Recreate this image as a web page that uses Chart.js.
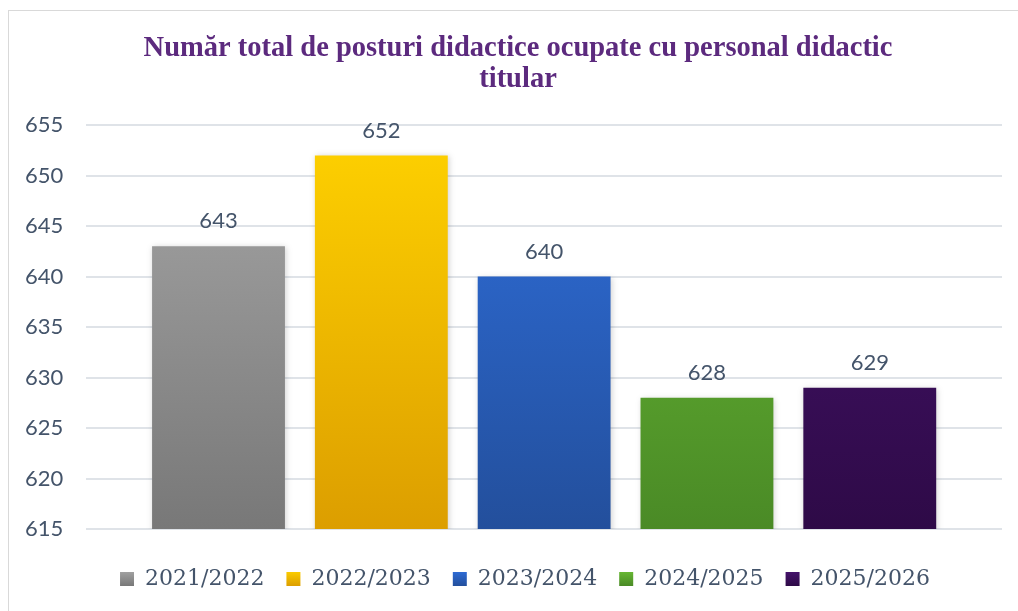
<!DOCTYPE html>
<html>
<head>
<meta charset="utf-8">
<script src="https://cdn.jsdelivr.net/npm/chart.js@4"></script>
<style>
  html, body { margin: 0; padding: 0; background: #fff; overflow: hidden; }
  #frame { position: absolute; left: 8px; top: 10px; width: 1030px; height: 620px; border: 1px solid #d9d9d9; box-sizing: border-box; }
  #wrap { position: absolute; left: 0; top: 0; width: 1018px; height: 611px; }
</style>
</head>
<body>
<div id="frame"></div>
<div id="wrap"><canvas id="canvas" width="1018" height="611"></canvas></div>
<script>
// school years and totals
const years = ['2021/2022', '2022/2023', '2023/2024', '2024/2025', '2025/2026'];
const totals = [643, 652, 640, 628, 629];
// gradient stops: top, bottom
const topColors = ['#a6a6a6', '#ffd200', '#2f6fdc', '#6bbd35', '#481470'];
const bottomColors = ['#787878', '#dc9e00', '#234f9c', '#4a8a26', '#2e0a47'];

const textColor = '#44546a';

function grad(ctx, i) {
  const area = ctx.chart.chartArea;
  if (!area) return topColors[i];
  const g = ctx.chart.ctx.createLinearGradient(0, area.top, 0, area.bottom);
  g.addColorStop(0, topColors[i]);
  g.addColorStop(1, bottomColors[i]);
  return g;
}

// values above bars
const valueLabels = {
  id: 'valueLabels',
  afterDatasetsDraw(chart) {
    const c = chart.ctx;
    c.save();
    c.font = '22px Lato, "Open Sans", sans-serif';
    c.fillStyle = textColor;
    c.textAlign = 'center';
    c.textBaseline = 'middle';
    chart.data.datasets.forEach((ds, i) => {
      const bar = chart.getDatasetMeta(i).data[0];
      c.fillText(ds.data[0], bar.x, bar.y - 25);
    });
    c.restore();
  }
};

// soft shadow on bars
const barShadow = {
  id: 'barShadow',
  beforeDatasetsDraw(chart) {
    chart.ctx.save();
    chart.ctx.shadowColor = 'rgba(0,0,0,0.18)';
    chart.ctx.shadowBlur = 6;
    chart.ctx.shadowOffsetX = 1;
    chart.ctx.shadowOffsetY = 1;
  },
  afterDatasetsDraw(chart) {
    chart.ctx.restore();
  }
};

// title and legend sit a bit right of centre in the original
const boxShift = {
  id: 'boxShift',
  afterLayout(chart) {
    chart.legend.left += 23;
    chart.legend.right += 23;
    chart.titleBlock.left += 16;
    chart.titleBlock.right += 16;
  }
};

new Chart(document.getElementById('canvas').getContext('2d'), {
  type: 'bar',
  data: {
    labels: [''],
    datasets: years.map((y, i) => ({
      label: y,
      data: [totals[i]],
      backgroundColor: ctx => grad(ctx, i),
      borderWidth: 0,
      categoryPercentage: 0.889,
      barPercentage: 0.816
    }))
  },
  options: {
    responsive: false,
    animation: false,
    devicePixelRatio: 1,
    layout: { padding: { left: 2, right: 16, top: 33, bottom: 11 } },
    plugins: {
      title: {
        display: true,
        text: ['Număr total de posturi didactice ocupate cu personal didactic', 'titular'],
        color: '#5c2a7e',
        font: { family: '"Liberation Serif", serif', size: 28.5, weight: 'bold', lineHeight: 1.09 },
        padding: { top: 0, bottom: 30 }
      },
      legend: {
        position: 'bottom',
        labels: {
          color: textColor,
          font: { family: '"DejaVu Serif", "Liberation Serif", serif', size: 22 },
          boxWidth: 14,
          boxHeight: 14,
          padding: 22,
          generateLabels: chart => years.map((y, i) => {
            const g = chart.ctx.createLinearGradient(0, 570, 0, 586);
            g.addColorStop(0, topColors[i]);
            g.addColorStop(1, bottomColors[i]);
            return { text: y, fillStyle: g, strokeStyle: 'transparent', lineWidth: 0, datasetIndex: i, fontColor: textColor };
          })
        }
      },
      tooltip: { enabled: false }
    },
    scales: {
      x: {
        grid: { display: false },
        border: { display: false },
        ticks: { display: false },
        title: { display: true, text: ' ', font: { size: 5 }, padding: { top: 1, bottom: 2 } }
      },
      y: {
        min: 615,
        max: 655,
        ticks: {
          stepSize: 5,
          color: textColor,
          padding: 23,
          font: { family: 'Lato, "Open Sans", sans-serif', size: 22 }
        },
        grid: { color: '#dfe3e8', lineWidth: 2, drawTicks: false },
        border: { display: false }
      }
    }
  },
  plugins: [barShadow, valueLabels, boxShift]
});
</script>
</body>
</html>
